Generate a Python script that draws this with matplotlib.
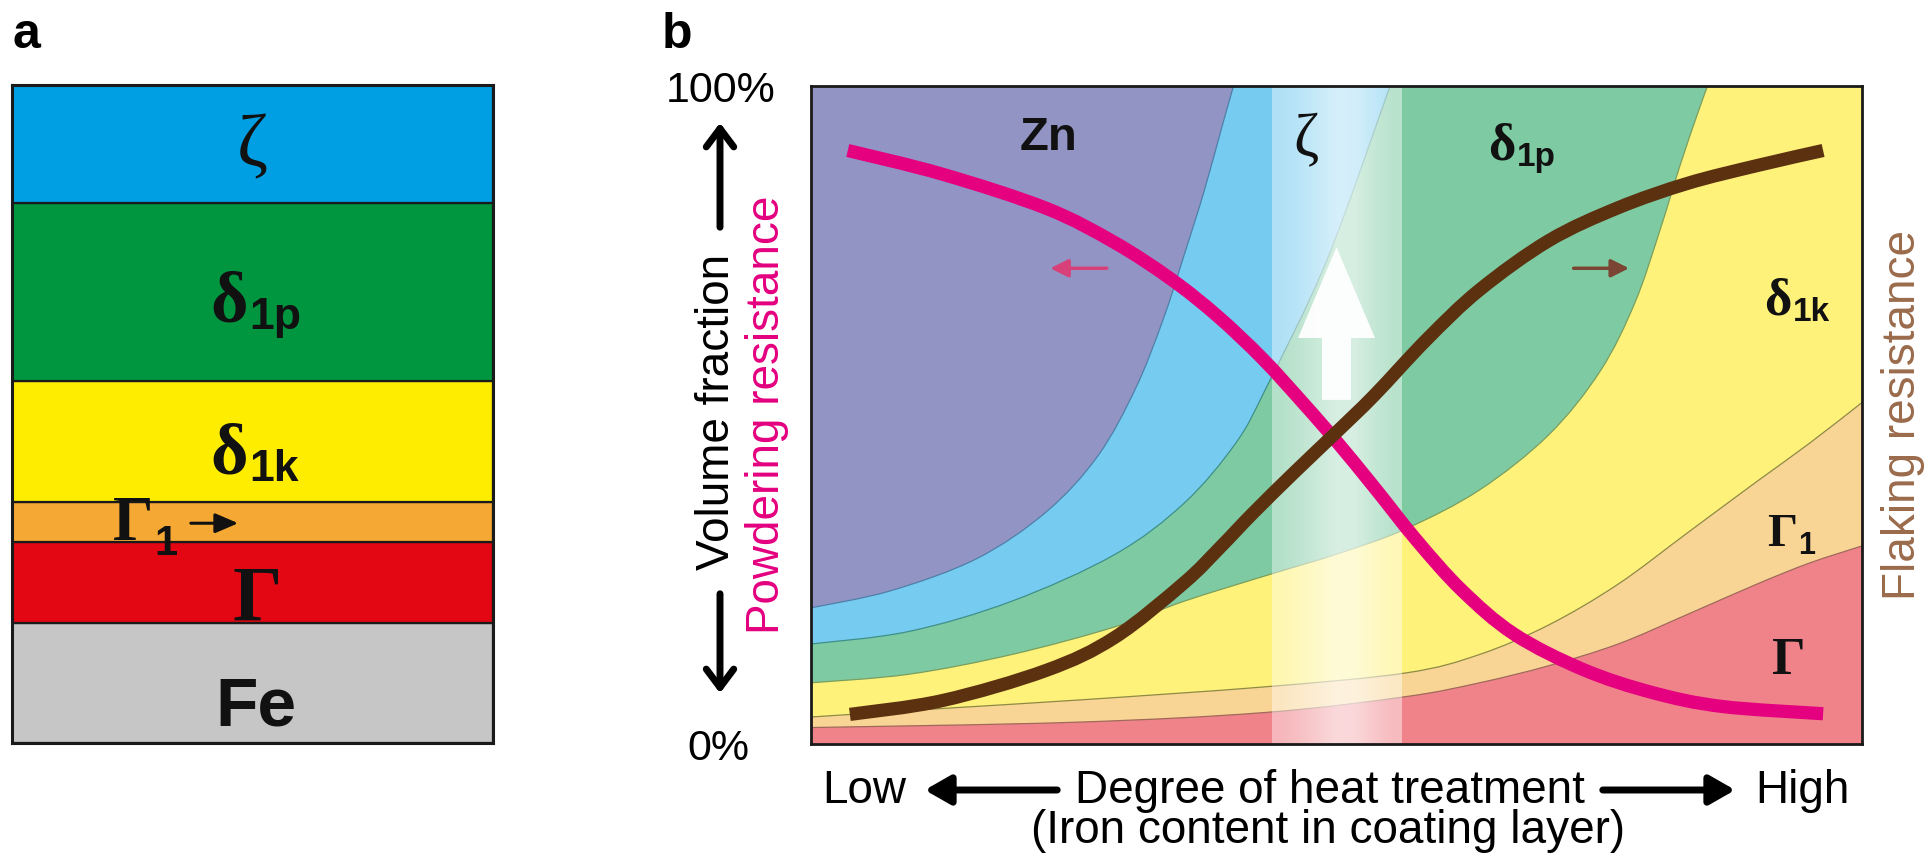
import matplotlib
matplotlib.use('Agg')
import numpy as np
import matplotlib.pyplot as plt
from matplotlib.patches import FancyArrowPatch, FancyArrow, PathPatch
from matplotlib.path import Path
from matplotlib.transforms import offset_copy

# ---- panel a: layer stack (bottom to top), thickness in px of the original
layer_names = ['Fe', 'Γ', 'Γ1', 'δ1k', 'δ1p', 'ζ']
layer_thickness = [120, 81, 40, 121, 178, 118]
layer_colors = ['#C6C6C6', '#E30613', '#F5A833', '#FFED00', '#009640', '#009FE3']

# ---- panel b: upper boundary of each phase (volume fraction, 0..1)
zeta_top_x = [0.0, 0.076, 0.158, 0.224, 0.273, 0.309, 0.335, 0.355, 0.374, 0.391, 0.402]
zeta_top_y = [0.207, 0.233, 0.282, 0.353, 0.438, 0.541, 0.645, 0.743, 0.840, 0.938, 1.0]

d1p_top_x = [0.0, 0.093, 0.191, 0.289, 0.355, 0.404, 0.433, 0.491, 0.551]
d1p_top_y = [0.152, 0.171, 0.217, 0.288, 0.366, 0.457, 0.541, 0.736, 1.0]

d1k_top_x = [0.0, 0.093, 0.191, 0.289, 0.355, 0.433, 0.503, 0.566, 0.636, 0.702,
             0.751, 0.784, 0.808, 0.827, 0.844, 0.853]
d1k_top_y = [0.093, 0.106, 0.136, 0.178, 0.217, 0.256, 0.29, 0.327, 0.386, 0.470,
             0.567, 0.671, 0.782, 0.88, 0.96, 1.0]

g1_top_x = [0.0, 0.125, 0.256, 0.433, 0.566, 0.636, 0.702, 0.768, 0.834, 0.900, 0.950, 1.0]
g1_top_y = [0.041, 0.054, 0.067, 0.087, 0.108, 0.136, 0.181, 0.243, 0.321, 0.399, 0.457, 0.519]

gamma_top_x = [0.0, 0.25, 0.433, 0.566, 0.636, 0.702, 0.768, 0.834, 0.900, 0.950, 1.0]
gamma_top_y = [0.025, 0.033, 0.048, 0.072, 0.093, 0.119, 0.152, 0.197, 0.243, 0.275, 0.301]

# resistance curves
powder_x = [0.035, 0.125, 0.224, 0.289, 0.343, 0.387, 0.43, 0.47, 0.50, 0.536,
            0.576, 0.619, 0.669, 0.735, 0.801, 0.867, 0.963]
powder_y = [0.902, 0.866, 0.814, 0.762, 0.706, 0.650, 0.585, 0.515, 0.46, 0.39,
            0.31, 0.234, 0.167, 0.113, 0.078, 0.057, 0.046]

flake_x = [0.037, 0.125, 0.224, 0.289, 0.355, 0.39, 0.42, 0.46, 0.50, 0.536,
           0.586, 0.636, 0.702, 0.768, 0.834, 0.900, 0.963]
flake_y = [0.045, 0.066, 0.112, 0.162, 0.245, 0.30, 0.35, 0.413, 0.474, 0.53,
           0.615, 0.69, 0.765, 0.815, 0.852, 0.879, 0.902]

# highlighted zeta band
band_x = [0.439, 0.562]

# colours
c_zn, c_zeta, c_d1p, c_d1k, c_g1, c_g = '#9295C4', '#76CBF0', '#7ECBA3', '#FEF27B', '#F9D595', '#F0838A'
magenta = '#E4007F'
brown = '#5C3110'

sans = 'Liberation Sans'
serif = 'Liberation Serif'

W, H = 1931, 855
fig = plt.figure(figsize=(W / 100, H / 100), dpi=100)


def fxy(x, y):
    return x / W, 1 - y / H


def smooth_verts(x, y):
    # catmull-rom through the read points, drawn as cubic bezier segments
    p = np.column_stack([x, y]).astype(float)
    ext = np.vstack([p[0], p, p[-1]])
    verts, codes = [p[0]], [Path.MOVETO]
    for i in range(1, len(ext) - 2):
        p0, p1, p2, p3 = ext[i - 1], ext[i], ext[i + 1], ext[i + 2]
        verts += [p1 + (p2 - p0) / 6, p2 - (p3 - p1) / 6, p2]
        codes += [Path.CURVE4] * 3
    return verts, codes


def region_patch(x, y, fc):
    verts, codes = smooth_verts(x, y)
    verts = list(verts) + [(1.0, y[-1]), (1.0, 0.0), (x[0], 0.0), (x[0], y[0])]
    codes = list(codes) + [Path.LINETO, Path.LINETO, Path.LINETO, Path.CLOSEPOLY]
    return PathPatch(Path(verts, codes), fc=fc, ec='none', lw=0, zorder=1)


def curve_patch(x, y, color, lw, z):
    verts, codes = smooth_verts(x, y)
    return PathPatch(Path(verts, codes), fill=False, ec=color, lw=lw,
                     capstyle='butt', zorder=z)


# ================= panel a =================
axa = fig.add_axes([12 / W, (H - 743) / H, 481 / W, 658 / H])
bottoms = np.concatenate([[0], np.cumsum(layer_thickness)[:-1]])
axa.bar([0] * len(layer_names), layer_thickness, bottom=bottoms, width=1.0,
        color=layer_colors, edgecolor='#1a1a1a', linewidth=1.6)
axa.set_xlim(-0.5, 0.5)
axa.set_ylim(0, sum(layer_thickness))
axa.set_xticks([])
axa.set_yticks([])
for s in axa.spines.values():
    s.set_linewidth(2.2)
    s.set_color('#1a1a1a')

ta = axa.transAxes


def sub_label(ax, x, y, main, sub, fam, size, subsize, dy, color='#111111', weight='bold'):
    ax.text(x, y, main, transform=ax.transAxes, ha='right', va='baseline',
            fontsize=size, family=fam, weight=weight, color=color, zorder=6)
    ax.text(x, y, sub, transform=offset_copy(ax.transAxes, fig=fig, x=1, y=dy, units='points'),
            ha='left', va='baseline', fontsize=subsize, family=sans, weight='bold',
            color=color, zorder=6)


axa.text(0.499, 0.904, 'ζ', transform=ta, ha='center', va='center', fontsize=54,
         family=serif, color='#111111')
sub_label(axa, 0.49, 0.640, 'δ', '1p', serif, 52, 32, -5)
sub_label(axa, 0.49, 0.409, 'δ', '1k', serif, 52, 32, -5)
sub_label(axa, 0.293, 0.309, 'Γ', '1', serif, 46, 30, -11)
axa.annotate('', xy=(0.476, 0.334), xytext=(0.366, 0.334), xycoords=ta,
             arrowprops=dict(arrowstyle='-|>,head_length=0.7,head_width=0.3',
                             lw=2.2, color='#111111', mutation_scale=20))
axa.text(0.509, 0.188, 'Γ', transform=ta, ha='center', va='baseline', fontsize=56,
         family=serif, weight='bold', color='#111111')
axa.text(0.507, 0.027, 'Fe', transform=ta, ha='center', va='baseline', fontsize=50,
         family=sans, weight='bold', color='#111111')

# ================= panel b =================
ax = fig.add_axes([811 / W, (H - 744) / H, 1051 / W, 658 / H])
ax.set_facecolor(c_zn)
phases = [
    (zeta_top_x, zeta_top_y, c_zeta, '#4F7FA8'),
    (d1p_top_x, d1p_top_y, c_d1p, '#3F8F8A'),
    (d1k_top_x, d1k_top_y, c_d1k, '#7A9E5E'),
    (g1_top_x, g1_top_y, c_g1, '#8E8A45'),
    (gamma_top_x, gamma_top_y, c_g, '#A06A5A'),
]
for px, py, fc, ec in phases:
    ax.add_patch(region_patch(px, py, fc))
    ax.add_patch(curve_patch(px, py, ec, 0.9, 2))

# translucent band
alpha_prof = np.array([0.42, 0.5, 0.6, 0.7, 0.68, 0.56, 0.46])
band = np.ones((1, len(alpha_prof), 4))
band[0, :, 3] = alpha_prof
ax.imshow(band, extent=(band_x[0], band_x[1], 0, 1), aspect='auto',
          interpolation='bilinear', zorder=3)

ax.add_patch(FancyArrow(0.500, 0.523, 0, 0.232, width=0.0276, head_width=0.0732,
                        head_length=0.138, length_includes_head=True,
                        color='white', alpha=0.95, lw=0, zorder=4))

ax.add_patch(curve_patch(powder_x, powder_y, magenta, 9.5, 5))
ax.add_patch(curve_patch(flake_x, flake_y, brown, 9.5, 5))

ax.annotate('', xy=(0.225, 0.723), xytext=(0.284, 0.723),
            arrowprops=dict(arrowstyle='-|>,head_length=0.6,head_width=0.3',
                            lw=2.5, color='#D8407A', mutation_scale=18))
ax.annotate('', xy=(0.781, 0.723), xytext=(0.723, 0.723),
            arrowprops=dict(arrowstyle='-|>,head_length=0.6,head_width=0.3',
                            lw=2.5, color='#7A4532', mutation_scale=18))

ax.set_xlim(0, 1)
ax.set_ylim(0, 1)
ax.set_xticks([])
ax.set_yticks([])
for s in ax.spines.values():
    s.set_linewidth(2.0)
    s.set_color('#1a1a1a')
    s.set_zorder(7)

ax.text(0.226, 0.921, 'Zn', ha='center', va='center', fontsize=34, family=sans,
        weight='bold', color='#111111', zorder=6)
ax.text(0.471, 0.916, 'ζ', ha='center', va='center', fontsize=44, family=serif,
        color='#111111', zorder=6)
sub_label(ax, 0.670, 0.889, 'δ', '1p', serif, 38, 24, -5)
sub_label(ax, 0.933, 0.652, 'δ', '1k', serif, 38, 24, -4)
sub_label(ax, 0.938, 0.301, 'Γ', '1', serif, 34, 22, -6)
ax.text(0.930, 0.106, 'Γ', ha='center', va='baseline', fontsize=38, family=serif,
        weight='bold', color='#111111', zorder=6)

# ================= outer labels =================
fig.text(*fxy(13, 48), 'a', fontsize=36, family=sans, weight='bold', va='baseline')
fig.text(*fxy(662, 48), 'b', fontsize=36, family=sans, weight='bold', va='baseline')

fig.text(*fxy(721, 102), '100%', fontsize=31, family=sans, ha='center', va='baseline')
fig.text(*fxy(718, 760), '0%', fontsize=31, family=sans, ha='center', va='baseline')
fig.text(*fxy(717, 412), 'Volume fraction', fontsize=33, family=sans, rotation=90,
         ha='center', va='center')
fig.text(*fxy(767, 415), 'Powdering resistance', fontsize=33, family=sans, rotation=90,
         ha='center', va='center', color=magenta)
fig.text(*fxy(1903, 415), 'Flaking resistance', fontsize=33, family=sans, rotation=90,
         ha='center', va='center', color='#9A6B4B')

vstyle = '->,head_length=0.6,head_width=0.45'
fig.add_artist(FancyArrowPatch(fxy(720, 230), fxy(720, 120), transform=fig.transFigure,
                               arrowstyle=vstyle, mutation_scale=22, lw=5, color='black'))
fig.add_artist(FancyArrowPatch(fxy(720, 591), fxy(720, 696), transform=fig.transFigure,
                               arrowstyle=vstyle, mutation_scale=22, lw=5, color='black'))

fig.text(*fxy(822, 803), 'Low', fontsize=33, family=sans, ha='left', va='baseline')
fig.text(*fxy(1075, 803), 'Degree of heat treatment', fontsize=33, family=sans,
         ha='left', va='baseline')
fig.text(*fxy(1755, 803), 'High', fontsize=33, family=sans, ha='left', va='baseline')
fig.text(*fxy(1328, 843), '(Iron content in coating layer)', fontsize=33, family=sans,
         ha='center', va='baseline')
hstyle = '-|>,head_length=0.7,head_width=0.4'
fig.add_artist(FancyArrowPatch(fxy(1060, 790), fxy(922, 790), transform=fig.transFigure,
                               arrowstyle=hstyle, mutation_scale=22, lw=5, color='black'))
fig.add_artist(FancyArrowPatch(fxy(1600, 790), fxy(1738, 790), transform=fig.transFigure,
                               arrowstyle=hstyle, mutation_scale=22, lw=5, color='black'))

fig.savefig('out.png', dpi=100)
